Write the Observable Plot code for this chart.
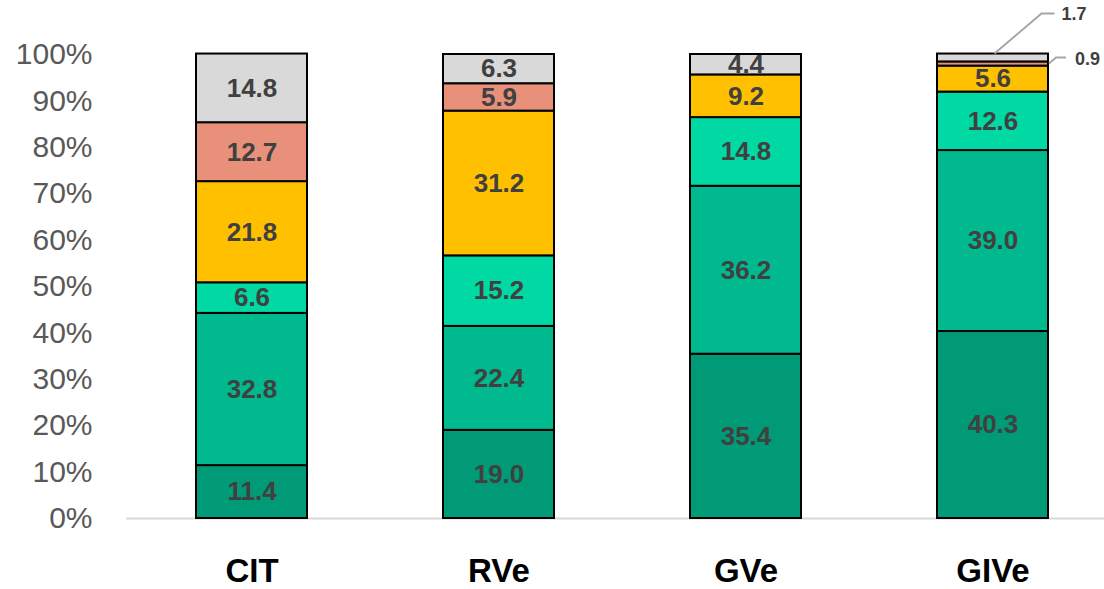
<!DOCTYPE html>
<html>
<head>
<meta charset="utf-8">
<script src="https://cdn.jsdelivr.net/npm/d3@7"></script>
<script src="https://cdn.jsdelivr.net/npm/@observablehq/plot@0.6"></script>
<style>
  html, body { margin: 0; padding: 0; background: #fff; }
  #chart { width: 1104px; height: 589px; }
</style>
</head>
<body>
<div id="chart"></div>
<script>
// Groups along the x axis
const categories = ["CIT", "RVe", "GVe", "GIVe"];

// Stack segments, bottom to top
const seriesNames = ["S1", "S2", "S3", "S4", "S5", "S6"];
const seriesColors = ["#009a76", "#00b98e", "#00d9a3", "#ffc000", "#e8907a", "#d9d9d9"];

// Percent share of each segment per group (rows follow seriesNames)
const valuesS1 = [11.4, 19.0, 35.4, 40.3];
const valuesS2 = [32.8, 22.4, 36.2, 39.0];
const valuesS3 = [6.6, 15.2, 14.8, 12.6];
const valuesS4 = [21.8, 31.2, 9.2, 5.6];
const valuesS5 = [12.7, 5.9, 0, 0.9];
const valuesS6 = [14.8, 6.3, 4.4, 1.7];

const yTicks = [0, 10, 20, 30, 40, 50, 60, 70, 80, 90, 100];

const seriesValues = [valuesS1, valuesS2, valuesS3, valuesS4, valuesS5, valuesS6];
const rows = [];
seriesNames.forEach((s, i) => {
  categories.forEach((c, j) => {
    rows.push({category: c, series: s, value: seriesValues[i][j]});
  });
});

// Segments too thin for an inside label get a callout instead
const minInside = 2;

const stackOpts = {x: "category", y: "value", z: "series", order: seriesNames};

// Callout leader lines and labels for thin segments, placed via the scales
function callouts(index, scales) {
  const ns = "http://www.w3.org/2000/svg";
  const g = document.createElementNS(ns, "g");
  const cat = "GIVe";
  const j = categories.indexOf(cat);
  let x0 = scales.x(cat);
  let bw = scales.x.bandwidth;
  if (typeof bw === "function") bw = bw();
  if (!Number.isFinite(x0) || !Number.isFinite(bw)) {
    // fall back to an equivalent band scale built from the same options
    const band = d3.scaleBand(categories, [126, 1117]).paddingInner(0.552).paddingOuter(0.276);
    x0 = band(cat);
    bw = band.bandwidth();
  }
  const xr = x0 + bw;
  const xc = x0 + bw / 2;
  // cumulative bounds for the thin segments
  let acc = 0;
  const bounds = seriesValues.map(v => { const b = [acc, acc + v[j]]; acc += v[j]; return b; });
  const s5 = bounds[4], s6 = bounds[5];
  const top6 = scales.y(s6[1]);
  const mid5 = scales.y((s5[0] + s5[1]) / 2);
  const items = [
    {pts: [[xc + 2, top6], [xc + 49, top6 - 40], [xc + 62, top6 - 40]], text: valuesS6[j].toFixed(1), tx: xc + 69, ty: top6 - 38},
    {pts: [[xr + 1, mid5], [xr + 8, mid5 - 6], [xr + 18, mid5 - 6]], text: valuesS5[j].toFixed(1), tx: xr + 27, ty: mid5 - 3}
  ];
  for (const it of items) {
    const p = document.createElementNS(ns, "polyline");
    p.setAttribute("points", it.pts.map(d => d.join(",")).join(" "));
    p.setAttribute("fill", "none");
    p.setAttribute("stroke", "#a6a6a6");
    p.setAttribute("stroke-width", "2");
    g.appendChild(p);
    const t = document.createElementNS(ns, "text");
    t.setAttribute("x", it.tx);
    t.setAttribute("y", it.ty);
    t.setAttribute("text-anchor", "start");
    t.setAttribute("dominant-baseline", "middle");
    t.style.fontSize = "18px";
    t.style.fontWeight = "bold";
    t.setAttribute("fill", "#404040");
    t.textContent = it.text;
    g.appendChild(t);
  }
  return g;
}

const chart = Plot.plot({
  width: 1104,
  height: 589,
  marginTop: 54,
  marginBottom: 71,
  marginLeft: 126,
  marginRight: 0,
  style: {fontFamily: "'Liberation Sans', Arial, sans-serif", background: "#fff"},
  x: {domain: categories, range: [126, 1117], paddingInner: 0.552, paddingOuter: 0.276, label: null},
  y: {domain: [0, 100], label: null},
  color: {domain: seriesNames, range: seriesColors},
  marks: [
    Plot.ruleY([0], {stroke: "#d9d9d9", strokeWidth: 2}),
    Plot.barY(rows, Plot.stackY({...stackOpts, fill: "series", stroke: "#000", strokeWidth: 2})),
    Plot.text(rows, Plot.stackY({
      ...stackOpts,
      text: d => d.value >= minInside ? d.value.toFixed(1) : "",
      fill: "#404040",
      fontSize: 26,
      fontWeight: "bold"
    })),
    callouts,
    Plot.axisY({ticks: yTicks, tickFormat: d => d + "%", tickSize: 0, tickPadding: 34, fontSize: 30, color: "#595959", label: null}),
    Plot.axisX({tickSize: 0, tickPadding: 40, fontSize: 33, fontWeight: "bold", color: "#000", label: null})
  ]
});

document.getElementById("chart").appendChild(chart);
</script>
</body>
</html>
